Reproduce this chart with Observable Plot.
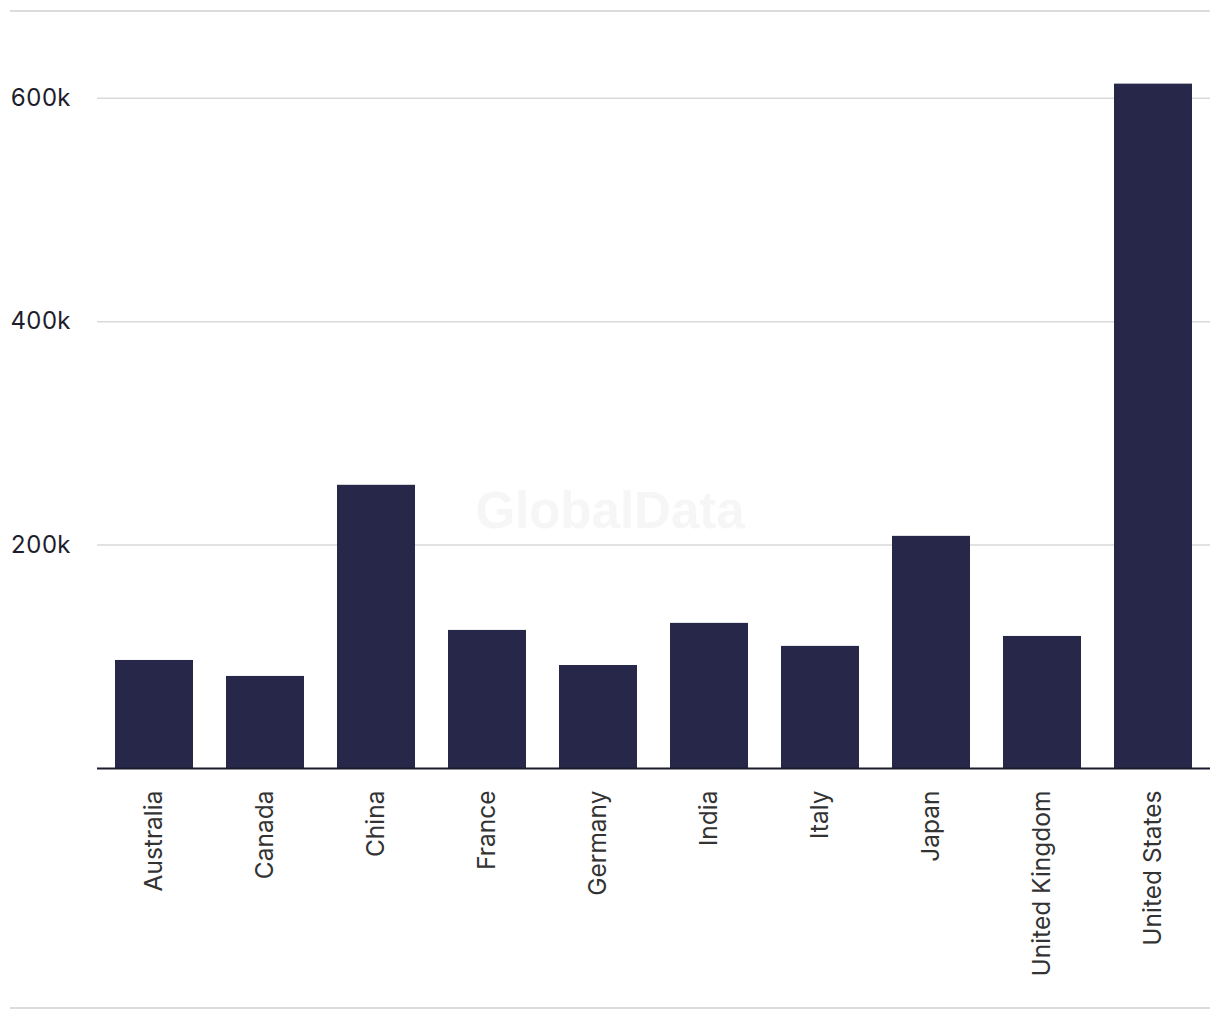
<!DOCTYPE html>
<html>
<head>
<meta charset="utf-8">
<script src="https://cdn.jsdelivr.net/npm/d3@7"></script>
<script src="https://cdn.jsdelivr.net/npm/@observablehq/plot@0.6"></script>
<style>
  html, body { margin: 0; padding: 0; background: #fff; }
  #wrap { position: relative; width: 1220px; height: 1020px; font-family: Inter, "Liberation Sans", Arial, sans-serif; }
  .hline { position: absolute; left: 10px; width: 1200px; height: 0; border-top: 2px solid #dcdcdc; }
  #wm { position: absolute; left: 0; width: 1220px; top: 485px; line-height: 51px; text-align: center; font: bold 51px "Liberation Sans", Arial, sans-serif; line-height: 51px; color: #f6f6f6; pointer-events: none; }
</style>
</head>
<body>
<div id="wrap">
  <div id="chart"></div>
  <div class="hline" style="top:10px"></div>
  <div class="hline" style="top:1007px"></div>
  <div id="wm">GlobalData</div>
</div>
<script>
const countries = ["Australia", "Canada", "China", "France", "Germany", "India", "Italy", "Japan", "United Kingdom", "United States"];
const values = [96700, 82400, 253500, 123600, 92200, 129900, 109300, 207800, 118200, 612600];
const yTicks = [200000, 400000, 600000];

const data = countries.map((c, i) => ({country: c, value: values[i]}));

const chart = Plot.plot({
  width: 1220,
  height: 1020,
  marginLeft: 97,
  marginRight: 10,
  marginTop: 20,
  marginBottom: 252,
  style: {background: "transparent", fontFamily: "Inter, 'Liberation Sans', Arial, sans-serif"},
  x: {domain: countries, paddingInner: 0.3, paddingOuter: 0.15},
  y: {domain: [0, 600000], range: [768, 97.7]},
  marks: [
    Plot.gridY(yTicks, {stroke: "#d9d9d9", strokeOpacity: 1, strokeWidth: 1.5}),
    Plot.barY(data, {x: "country", y: "value", fill: "#272849"}),
    Plot.ruleY([0], {stroke: "#1b1b2f", strokeWidth: 2}),
    Plot.axisY(yTicks, {tickSize: 0, tickPadding: 87, textAnchor: "start", tickFormat: d => d / 1000 + "k", fontSize: 24, fill: "#1d1d2c", label: null}),
    Plot.axisX({tickSize: 0, tickPadding: 22, tickRotate: -90, fontSize: 24.5, fill: "#333333", label: null})
  ]
});
document.getElementById("chart").appendChild(chart);
</script>
</body>
</html>
